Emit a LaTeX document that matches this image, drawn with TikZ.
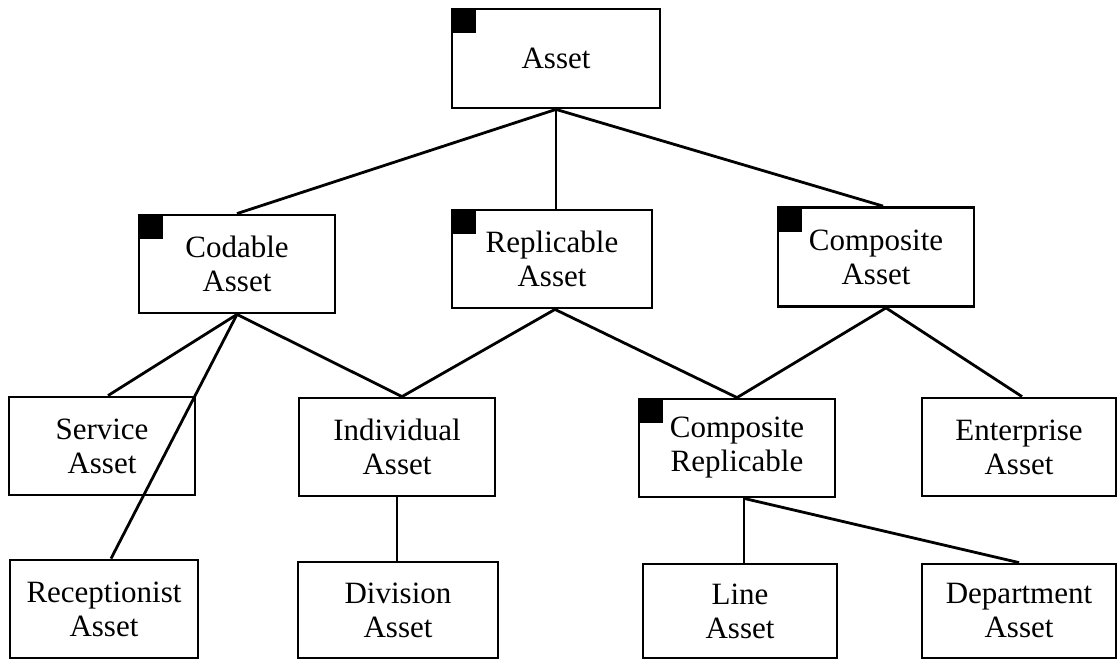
\documentclass[tikz,border=0pt]{standalone}
\usepackage{fontspec}
\setmainfont{Liberation Serif}
\begin{document}
\begin{tikzpicture}[x=1pt,y=-1pt,
  box/.style={draw, line width=2.8pt, minimum width=196pt, minimum height=98pt, inner sep=0pt, align=center, font=\fontsize{31}{34}\selectfont},
  conn/.style={line width=2.8pt},
  cornersq/.style={fill=black, draw=none, minimum size=25pt, inner sep=0pt, anchor=north west}]
\useasboundingbox[fill=white] (0,0) rectangle (1117,660);
% level 0
\node[box, minimum width=208pt, minimum height=99pt] (asset) at (556,58.5) {Asset};
% level 1
\node[box] (codable) at (237,264) {Codable\\Asset};
\node[box, minimum width=200pt] (repl) at (552,259) {Replicable\\Asset};
\node[box, minimum height=99pt] (compa) at (876,257) {Composite\\Asset};
% level 2
\node[box, minimum width=186pt] (service) at (102,446) {Service\\Asset};
\node[box] (indiv) at (397,447) {Individual\\Asset};
\node[box] (comprep) at (737,448) {Composite\\Replicable};
\node[box, minimum width=194pt] (enter) at (1019,447) {Enterprise\\Asset};
% level 3
\node[box, minimum width=188pt] (recep) at (104,609) {Receptionist\\Asset};
\node[box, minimum width=200pt, minimum height=96pt] (div) at (398,610) {Division\\Asset};
\node[box, minimum width=194pt, minimum height=94pt] (line) at (740,611) {Line\\Asset};
\node[box, minimum width=194pt, minimum height=94pt] (dept) at (1019,611) {Department\\Asset};
% black corner squares
\node[cornersq] (sq1) at ([shift={(0.5pt,-0.5pt)}]asset.north west) {};
\node[cornersq] (sq2) at ([shift={(0.5pt,-0.5pt)}]codable.north west) {};
\node[cornersq] (sq3) at ([shift={(0.5pt,-0.5pt)}]repl.north west) {};
\node[cornersq] (sq4) at ([shift={(0.5pt,-0.5pt)}]compa.north west) {};
\node[cornersq] (sq5) at ([shift={(0.5pt,-0.5pt)}]comprep.north west) {};
% attachment points
\coordinate (aS) at (asset.south);
\coordinate (cS) at (codable.south);
\coordinate (rS) at ([xshift=3pt]repl.south);
\coordinate (caS) at ([xshift=10pt]compa.south);
\coordinate (crS) at ([xshift=7pt]comprep.south);
\coordinate (iN) at ([xshift=5pt]indiv.north);
% connectors
\draw[conn] (aS) -- (codable.north);
\draw[conn] (aS) -- (aS |- repl.north);
\draw[conn] (aS) -- ([xshift=7pt]compa.north);
\draw[conn] (cS) -- ([xshift=6pt]service.north);
\draw[conn] (cS) -- ([xshift=7pt]recep.north);
\draw[conn] (cS) -- (iN);
\draw[conn] (rS) -- (iN);
\draw[conn] (rS) -- (comprep.north);
\draw[conn] (caS) -- (comprep.north);
\draw[conn] (caS) -- ([xshift=3pt]enter.north);
\draw[conn] (crS) -- (crS |- line.north);
\draw[conn] (crS) -- (dept.north);
\draw[conn] (indiv.south) -- (indiv.south |- div.north);
\end{tikzpicture}
\end{document}
